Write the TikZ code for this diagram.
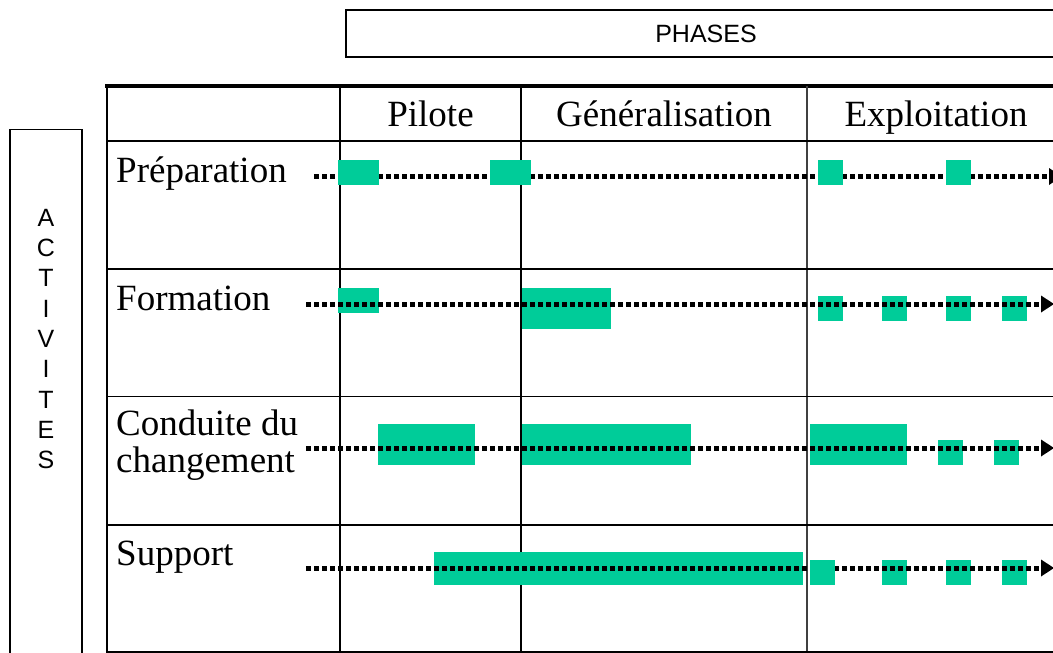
\documentclass[tikz,border=0pt]{standalone}
\usepackage{fontspec}
\setmainfont{Liberation Serif}
\newfontfamily\arialfont{Liberation Sans}
\usetikzlibrary{arrows.meta}
\definecolor{bargreen}{HTML}{00CC99}
\begin{document}
\begin{tikzpicture}[x=1pt,y=-1pt,
  gridline/.style={line width=1.6pt},
  bar/.style={fill=bargreen},
  track/.style={line width=5pt, dash pattern=on 5pt off 3pt,
    -{Triangle[length=13pt,width=17pt,line width=0pt]}},
  lbl/.style={font=\fontsize{37}{37}\selectfont, inner sep=0pt},
  sanslbl/.style={font=\arialfont\fontsize{25}{30.3}\selectfont, inner sep=0pt}]
\useasboundingbox (0,0) rectangle (1053,653);
\clip (0,0) rectangle (1053,653);
\fill[white] (0,0) rectangle (1053,653);

% PHASES box
\node[draw, line width=1.5pt, minimum width=720pt, minimum height=47pt, inner sep=0pt,
  font=\arialfont\fontsize{25}{25}\selectfont] (phases) at (706,33.5) {PHASES};

% ACTIVITES box
\draw[line width=1.5pt] (10,670) -- (10,129.5) -- (82,129.5) -- (82,670);
\node[sanslbl, align=center] (act) at (46,339) {A\\C\\T\\I\\V\\I\\T\\E\\S};

% table grid
\draw[line width=3.6pt] (105,85.7) -- (1070,85.7);
\draw[gridline] (107,85.7) -- (107,653);
\draw[gridline] (340,85.7) -- (340,653);
\draw[gridline] (521,85.7) -- (521,653);
\draw[gridline, black!75] (807,85.7) -- (807,653);
\foreach \yy in {141,269,396.5,525,652} \draw[gridline] (107,\yy) -- (1070,\yy);

% header labels
\node[lbl, anchor=base] (pilote) at (430.5,126) {Pilote};
\node[lbl, anchor=base] (gen) at (664,126) {Généralisation};
\node[lbl, anchor=base] (expl) at (936,126) {Exploitation};

% row labels
\node[lbl, anchor=base west] (prep) at (116,182) {Préparation};
\node[lbl, anchor=base west] (form) at (116,310) {Formation};
\node[lbl, anchor=base west] (cond) at (116,435) {Conduite du};
\node[lbl, anchor=base west] (chg) at (116,472) {changement};
\node[lbl, anchor=base west] (supp) at (116,565) {Support};

% track coordinates
\coordinate (t1s) at (314,176.5);  \coordinate (t1e) at (1062,176.5);
\coordinate (t2s) at (306,304);  \coordinate (t2e) at (1054,304);
\coordinate (t3s) at (306,448);  \coordinate (t3e) at (1054,448);
\coordinate (t4s) at (306,568);  \coordinate (t4e) at (1054,568);

% row 1: Préparation (bars above the line)
\draw[track] (t1s) -- (t1e);
\fill[bar] (338,160) rectangle (379,185);
\fill[bar] (490,160) rectangle (531,185);
\fill[bar] (818,160) rectangle (843,185);
\fill[bar] (946,160) rectangle (971,185);

% row 2: Formation
\fill[bar] (338,288) rectangle (379,313);
\fill[bar] (522,288) rectangle (611,329);
\fill[bar] (818,296) rectangle (843,321);
\fill[bar] (882,296) rectangle (907,321);
\fill[bar] (946,296) rectangle (971,321);
\fill[bar] (1002,296) rectangle (1027,321);
\draw[track] (t2s) -- (t2e);

% row 3: Conduite du changement
\fill[bar] (378,424) rectangle (475,465);
\fill[bar] (522,424) rectangle (691,465);
\fill[bar] (810,424) rectangle (907,465);
\fill[bar] (938,440) rectangle (963,465);
\fill[bar] (994,440) rectangle (1019,465);
\draw[track] (t3s) -- (t3e);

% row 4: Support
\fill[bar] (434,552) rectangle (803,585);
\fill[bar] (882,560) rectangle (907,585);
\fill[bar] (946,560) rectangle (971,585);
\fill[bar] (1002,560) rectangle (1027,585);
\draw[track] (t4s) -- (t4e);
\fill[bar] (810,560) rectangle (835,585);
\end{tikzpicture}
\end{document}
